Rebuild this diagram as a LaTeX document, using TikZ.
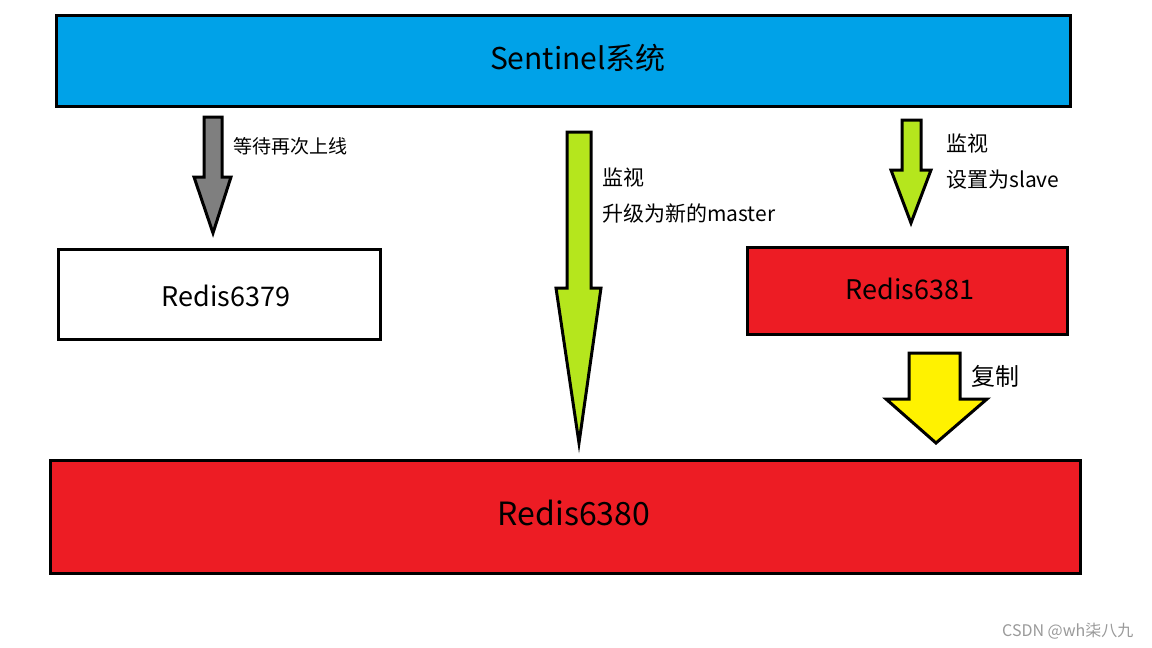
\documentclass[tikz,border=0pt]{standalone}
\usepackage{fontspec}
\setmainfont{Noto Sans CJK SC}
\definecolor{skyb}{HTML}{00A2E8}
\definecolor{redb}{HTML}{ED1C24}
\definecolor{lime}{HTML}{B5E61D}
\definecolor{grayb}{HTML}{7F7F7F}
\definecolor{yel}{HTML}{FFF200}
\definecolor{wm}{HTML}{9A9A9A}
\begin{document}
\begin{tikzpicture}[x=1pt,y=-1pt,
  box/.style={draw=black,line width=3pt,inner sep=0pt},
  blk/.style={draw=black,line width=3pt,line join=miter},
  lbl/.style={anchor=west,inner sep=0pt,font=\fontsize{19}{22}\selectfont}]
\useasboundingbox (0,0) rectangle (1152,648);
\fill[white] (0,0) rectangle (1152,648);
% boxes
\draw[box,fill=skyb] (56,15) rectangle (1070,106);
\node (sent) at (578,58) {\fontsize{30}{34}\selectfont Sentinel系统};
\draw[box,fill=white] (58,249) rectangle (380,339);
\node (r79) at (226,296) {\fontsize{27}{32}\selectfont Redis6379};
\draw[box,fill=redb] (747,247) rectangle (1067,334);
\node (r81) at (910,289) {\fontsize{27}{32}\selectfont Redis6381};
\draw[box,fill=redb] (50,460) rectangle (1080,573);
\node (r80) at (574,513) {\fontsize{32}{36}\selectfont Redis6380};
% arrows
\draw[blk,fill=grayb] (204,117) -- (222,117) -- (222,177) -- (231,177) -- (213,233) -- (194,177) -- (204,177) -- cycle;
\draw[blk,fill=lime] (567,132) -- (591,132) -- (591,288) -- (601,288) -- (579,443) -- (556,288) -- (567,288) -- cycle;
\draw[blk,fill=lime] (902,120) -- (921,120) -- (921,170) -- (931,170) -- (911,223) -- (891,170) -- (902,170) -- cycle;
\draw[blk,fill=yel] (909,353) -- (960,353) -- (960,399) -- (987,399) -- (936,443) -- (886,399) -- (909,399) -- cycle;
% labels
\node[lbl] (t1) at (233,146) {等待再次上线};
\node[lbl,font=\fontsize{21}{24}\selectfont] (t2) at (602,178) {监视};
\node[lbl,font=\fontsize{21}{24}\selectfont] (t3) at (602,213) {升级为新的master};
\node[lbl,font=\fontsize{21}{24}\selectfont] (t4) at (946,144) {监视};
\node[lbl,font=\fontsize{21}{24}\selectfont] (t5) at (946,180) {设置为slave};
\node[lbl,font=\fontsize{24}{28}\selectfont] (t6) at (971,376) {复制};
\node[lbl,font=\fontsize{16}{19}\selectfont,text=wm] (wm) at (1002,631) {CSDN @wh柒八九};
\end{tikzpicture}
\end{document}
